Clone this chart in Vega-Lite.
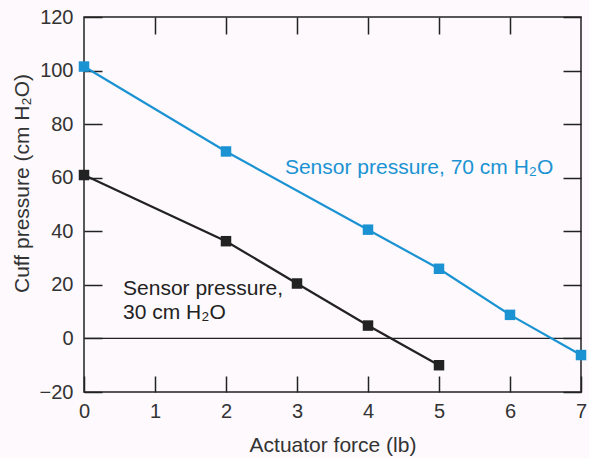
{
  "$schema": "https://vega.github.io/schema/vega-lite/v6.json",
  "width": 497,
  "height": 375,
  "padding": {"left": 84, "top": 17, "right": 8, "bottom": 66},
  "autosize": {"type": "none"},
  "background": "#fdf9fc",
  "config": {
    "view": {"stroke": "#222222", "strokeWidth": 1.5},
    "font": "Liberation Sans",
    "axis": {
      "grid": false,
      "domain": false,
      "labelFlush": false,
      "tickColor": "#222222",
      "tickWidth": 1.5,
      "labelFont": "Liberation Sans",
      "labelFontSize": 20,
      "labelColor": "#333333",
      "titleFont": "Liberation Sans",
      "titleFontSize": 21,
      "titleFontWeight": "normal",
      "titleColor": "#333333"
    }
  },
  "datasets": {
    "series": [
      {"force": 0, "pressure": 101.5, "series": "70"},
      {"force": 2, "pressure": 69.8, "series": "70"},
      {"force": 4, "pressure": 40.6, "series": "70"},
      {"force": 5, "pressure": 26, "series": "70"},
      {"force": 6, "pressure": 8.8, "series": "70"},
      {"force": 7, "pressure": -6.2, "series": "70"},
      {"force": 0, "pressure": 61, "series": "30"},
      {"force": 2, "pressure": 36.3, "series": "30"},
      {"force": 3, "pressure": 20.5, "series": "30"},
      {"force": 4, "pressure": 4.8, "series": "30"},
      {"force": 5, "pressure": -10, "series": "30"}
    ],
    "labels": [
      {"force": 2.83, "pressure": 63.6, "series": "70", "text": ["Sensor pressure, 70 cm H₂O"]},
      {"force": 0.55, "pressure": 18.5, "series": "30", "text": ["Sensor pressure,", "30 cm H₂O"]}
    ]
  },
  "layer": [
    {
      "data": {"values": [{"zero": 0}]},
      "mark": {"type": "rule", "color": "#222222", "strokeWidth": 1.2},
      "encoding": {
        "y": {"field": "zero", "type": "quantitative", "scale": {"domain": [-20, 120]},
          "axis": {"orient": "left", "values": [-20, 0, 20, 40, 60, 80, 100, 120], "tickSize": -18, "labelPadding": 29, "title": "Cuff pressure (cm H₂O)", "titleX": -52, "titleY": 166}}
      }
    },
    {
      "data": {"name": "series"},
      "mark": {"type": "line", "strokeWidth": 2.2},
      "encoding": {
        "x": {"field": "force", "type": "quantitative", "scale": {"domain": [0, 7]},
          "axis": {"orient": "bottom", "values": [0, 1, 2, 3, 4, 5, 6, 7], "tickSize": -16, "labelPadding": 25, "title": "Actuator force (lb)", "titlePadding": 13}},
        "y": {"field": "pressure", "type": "quantitative", "scale": {"domain": [-20, 120]}, "axis": null},
        "color": {"field": "series", "type": "nominal", "scale": {"domain": ["70", "30"], "range": ["#1b93d3", "#222222"]}, "legend": null}
      }
    },
    {
      "data": {"name": "series"},
      "mark": {"type": "square", "size": 110, "opacity": 1, "filled": true},
      "encoding": {
        "x": {"field": "force", "type": "quantitative", "axis": null},
        "y": {"field": "pressure", "type": "quantitative", "axis": null},
        "color": {"field": "series", "type": "nominal", "legend": null}
      }
    },
    {
      "data": {"name": "labels"},
      "mark": {"type": "text", "align": "left", "baseline": "middle", "fontSize": 21, "lineHeight": 24, "font": "Liberation Sans"},
      "encoding": {
        "x": {"field": "force", "type": "quantitative", "axis": null},
        "y": {"field": "pressure", "type": "quantitative", "axis": null},
        "text": {"field": "text"},
        "color": {"field": "series", "type": "nominal", "scale": {"domain": ["70", "30"], "range": ["#1b93d3", "#333333"]}, "legend": null}
      }
    },
    {
      "data": {"values": [{"zero": 0, "f": 0}]},
      "mark": {"type": "point", "opacity": 0},
      "encoding": {
        "x": {"field": "f", "type": "quantitative", "scale": {"domain": [0, 7]},
          "axis": {"orient": "top", "values": [1, 2, 3, 4, 5, 6], "tickSize": -17, "labels": false, "title": null}},
        "y": {"field": "zero", "type": "quantitative", "scale": {"domain": [-20, 120]},
          "axis": {"orient": "right", "values": [-20, 0, 20, 40, 60, 80, 100, 120], "tickSize": -18, "labels": false, "title": null}}
      }
    }
  ],
  "resolve": {"axis": {"x": "independent", "y": "independent"}}
}
